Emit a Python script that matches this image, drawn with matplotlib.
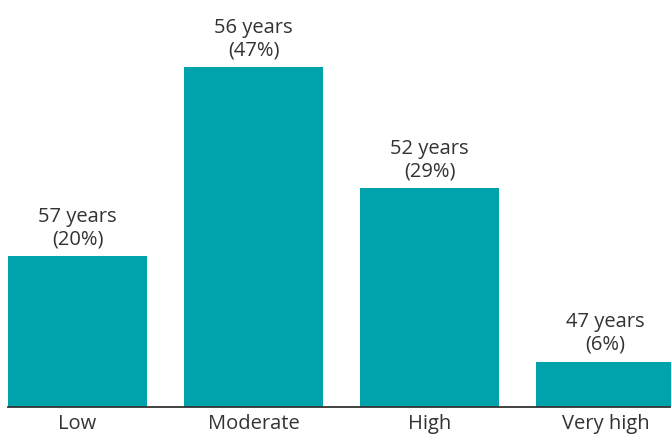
import matplotlib

matplotlib.use("Agg")
import matplotlib.pyplot as plt  # noqa: E402

categories = ["Low", "Moderate", "High", "Very high"]
shares = [20, 47, 29, 6]          # labelled share (%)
bar_heights = [20, 45, 29, 6]     # bar lengths as drawn in the source chart
ages = [57, 56, 52, 47]

BAR = "#00a3ab"
INK = "#333333"

plt.rcParams["font.family"] = ["Open Sans", "DejaVu Sans"]

fig = plt.figure(figsize=(6.71, 4.37), dpi=100)
ax = fig.add_axes([8 / 671, 30 / 437, 663 / 671, 407 / 437])

x = range(len(categories))
ax.bar(x, bar_heights, width=0.79, color=BAR)
for i, (h, s, a) in enumerate(zip(bar_heights, shares, ages)):
    ax.annotate(f"{a} years\n({s}%)", (i, h), xytext=(0, 5), textcoords="offset points",
                ha="center", va="bottom", fontsize=14.5, color=INK, linespacing=1.15)

ax.set_xlim(-0.395, 3.372)
ax.set_ylim(0, 53.9)
ax.set_xticks(list(x))
ax.set_xticklabels(categories, fontsize=14.5, color=INK)
ax.tick_params(axis="x", length=0, pad=5)
ax.set_yticks([])
for side in ("top", "right", "left"):
    ax.spines[side].set_visible(False)
ax.spines["bottom"].set_color(INK)
ax.spines["bottom"].set_linewidth(1.3)

fig.savefig("out.png", dpi=100)
